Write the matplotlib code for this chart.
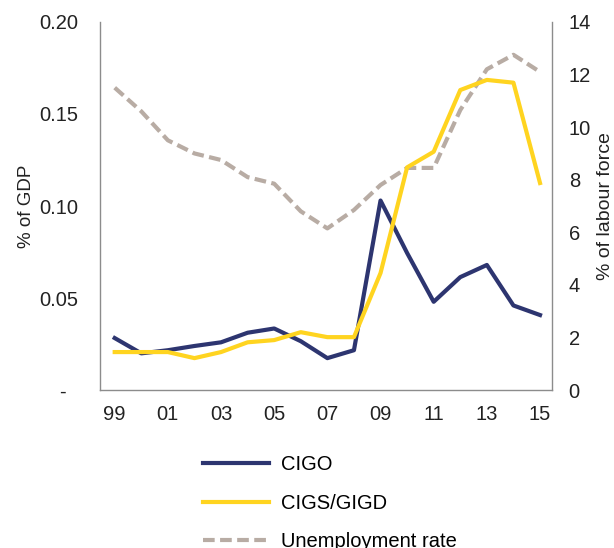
import numpy as np
import matplotlib.pyplot as plt

plt.rcParams['font.family'] = ['Liberation Sans', 'DejaVu Sans']

years = [1999, 2000, 2001, 2002, 2003, 2004, 2005, 2006, 2007,
         2008, 2009, 2010, 2011, 2012, 2013, 2014, 2015]
year_labels = ['99', '01', '03', '05', '07', '09', '11', '13', '15']

# % of GDP
cigo = [0.0283, 0.0200, 0.0217, 0.0240, 0.0260, 0.0312, 0.0335, 0.0266, 0.0174,
        0.0217, 0.1030, 0.0745, 0.0480, 0.0614, 0.0680, 0.0460, 0.0408]
cigs = [0.0207, 0.0207, 0.0207, 0.0174, 0.0207, 0.0260, 0.0272, 0.0315, 0.0288,
        0.0288, 0.0636, 0.1210, 0.1295, 0.1630, 0.1685, 0.1670, 0.1125]
# % of labour force
unemp = [11.5, 10.6, 9.5, 9.0, 8.75, 8.1, 7.85, 6.8, 6.15,
         6.85, 7.8, 8.45, 8.45, 10.65, 12.2, 12.75, 12.1]

navy = '#2d3570'
yellow = '#ffd420'
grey = '#b8aca4'
axis_col = '#8c8c8c'
txt_col = '#222222'
fs = 14.5

fig = plt.figure(figsize=(6.14, 5.48), dpi=100)
ax = fig.add_axes([0.163, 0.288, 0.736, 0.672])
ax2 = ax.twinx()

l1, = ax.plot(years, cigo, color=navy, lw=3.0, label='CIGO', zorder=3)
l2, = ax.plot(years, cigs, color=yellow, lw=3.0, label='CIGS/GIGD', zorder=3)
l3, = ax2.plot(years, unemp, color=grey, lw=3.0, dashes=(2.8, 1.3),
               label='Unemployment rate')
ax.set_zorder(ax2.get_zorder() + 1)
ax.patch.set_visible(False)

ax.set_xlim(1998.45, 2015.45)
ax.set_ylim(0, 0.20)
ax2.set_ylim(0, 14)

ax.set_xticks(years[::2])
ax.set_xticklabels(year_labels)
ax.set_yticks([0, 0.05, 0.10, 0.15, 0.20])
ax.set_yticklabels(['-  ', '0.05', '0.10', '0.15', '0.20'])
ax2.set_yticks(np.arange(0, 15, 2))

for a in (ax, ax2):
    for s in a.spines.values():
        s.set_visible(False)
    a.tick_params(length=0, labelsize=fs, colors=txt_col)
ax.spines['left'].set_visible(True)
ax.spines['bottom'].set_visible(True)
ax2.spines['right'].set_visible(True)
for s in (ax.spines['left'], ax.spines['bottom'], ax2.spines['right']):
    s.set_color(axis_col)
    s.set_linewidth(1.0)
ax.tick_params(axis='y', pad=16)
ax.tick_params(axis='x', pad=11)
ax2.tick_params(axis='y', pad=12)

ax.set_ylabel('% of GDP', fontsize=13.5, color=txt_col, labelpad=3)
ax2.set_ylabel('% of labour force', fontsize=14, color=txt_col, labelpad=4)

fig.legend(handles=[l1, l2, l3], loc='upper left', bbox_to_anchor=(0.317, 0.1835),
           frameon=False, fontsize=fs, handlelength=3.3, handletextpad=0.6,
           labelspacing=0.95, borderaxespad=0)

fig.savefig('out.png', dpi=100)
